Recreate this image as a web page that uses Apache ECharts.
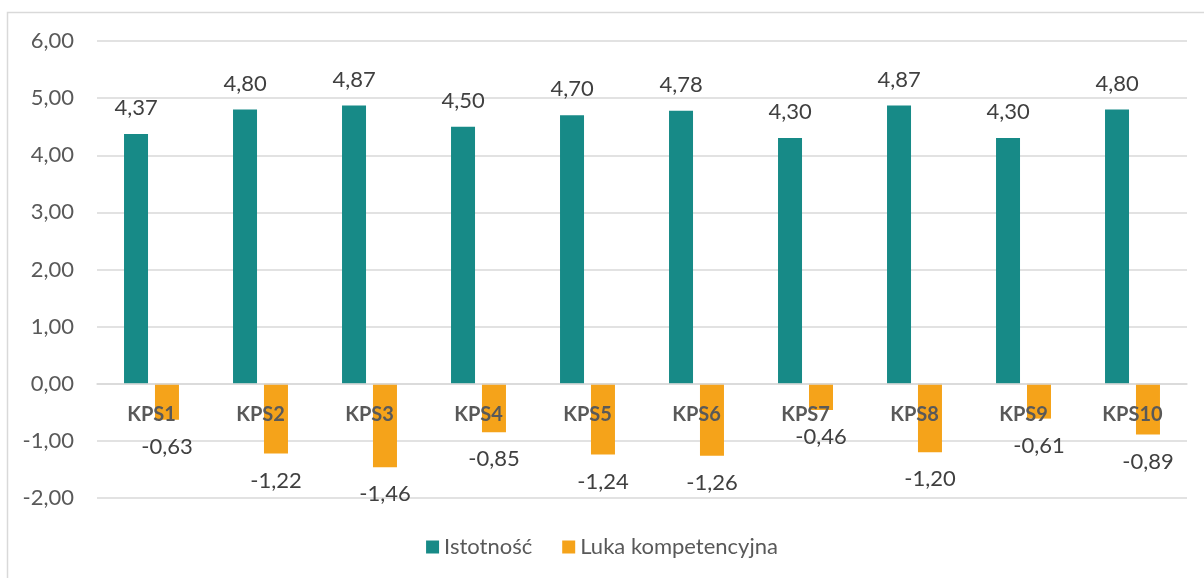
<!DOCTYPE html>
<html><head><meta charset="utf-8">
<script src="https://cdn.jsdelivr.net/npm/echarts@6/dist/echarts.min.js"></script>
<style>html,body{margin:0;padding:0;background:#fff;}#c{width:1204px;height:578px;}</style>
</head><body><div id="c"></div>
<script>
const categories = ['KPS1','KPS2','KPS3','KPS4','KPS5','KPS6','KPS7','KPS8','KPS9','KPS10'];
const istotnosc = [4.37,4.80,4.87,4.50,4.70,4.78,4.30,4.87,4.30,4.80];
const luka = [-0.63,-1.22,-1.46,-0.85,-1.24,-1.26,-0.46,-1.20,-0.61,-0.89];
const seriesNames = ['Istotność','Luka kompetencyjna'];
const fmt = v => v.toFixed(2).replace('.', ',');
const FONT = 'Lato, "Open Sans", sans-serif';
const chart = echarts.init(document.getElementById('c'), null, {renderer:'canvas'});
chart.setOption({
  animation:false,
  textStyle:{fontFamily:FONT},
  graphic:[{type:'rect',shape:{x:7.5,y:12.5,width:1210,height:600},style:{fill:'none',stroke:'#d9d9d9',lineWidth:1.5},silent:true,z:-1}],
  grid:{left:97,right:17,top:41,bottom:80},
  legend:{bottom:15,left:'center',itemWidth:13,itemHeight:13,itemGap:30,icon:'rect',
    textStyle:{fontSize:22,color:'#595959',fontFamily:FONT},data:seriesNames},
  xAxis:{type:'category',data:categories,z:10,position:'bottom',offset:-114,
    axisLine:{onZero:false,lineStyle:{color:'#d9d9d9',width:1.5}},axisTick:{show:false},
    axisLabel:{margin:21,fontSize:20,fontWeight:'bold',color:'#595959',fontFamily:FONT}},
  yAxis:{type:'value',min:-2,max:6,interval:1,
    axisLine:{show:false},axisTick:{show:false},
    splitLine:{lineStyle:{color:'#d9d9d9',width:1.5}},
    axisLabel:{formatter:v=>fmt(v),fontSize:22,color:'#595959',margin:23,fontFamily:FONT}},
  series:[
    {name:seriesNames[0],type:'bar',data:istotnosc,barWidth:24,barGap:'29%',
     itemStyle:{color:'#178A87'},
     label:{show:true,position:'top',distance:15,fontSize:22,color:'#404040',formatter:p=>fmt(p.value),fontFamily:FONT}},
    {name:seriesNames[1],type:'bar',data:luka,barWidth:24,
     itemStyle:{color:'#F5A31A'},
     label:{show:true,position:'bottom',distance:16,fontSize:22,color:'#404040',formatter:p=>fmt(p.value),fontFamily:FONT}}
  ]
});
</script></body></html>
